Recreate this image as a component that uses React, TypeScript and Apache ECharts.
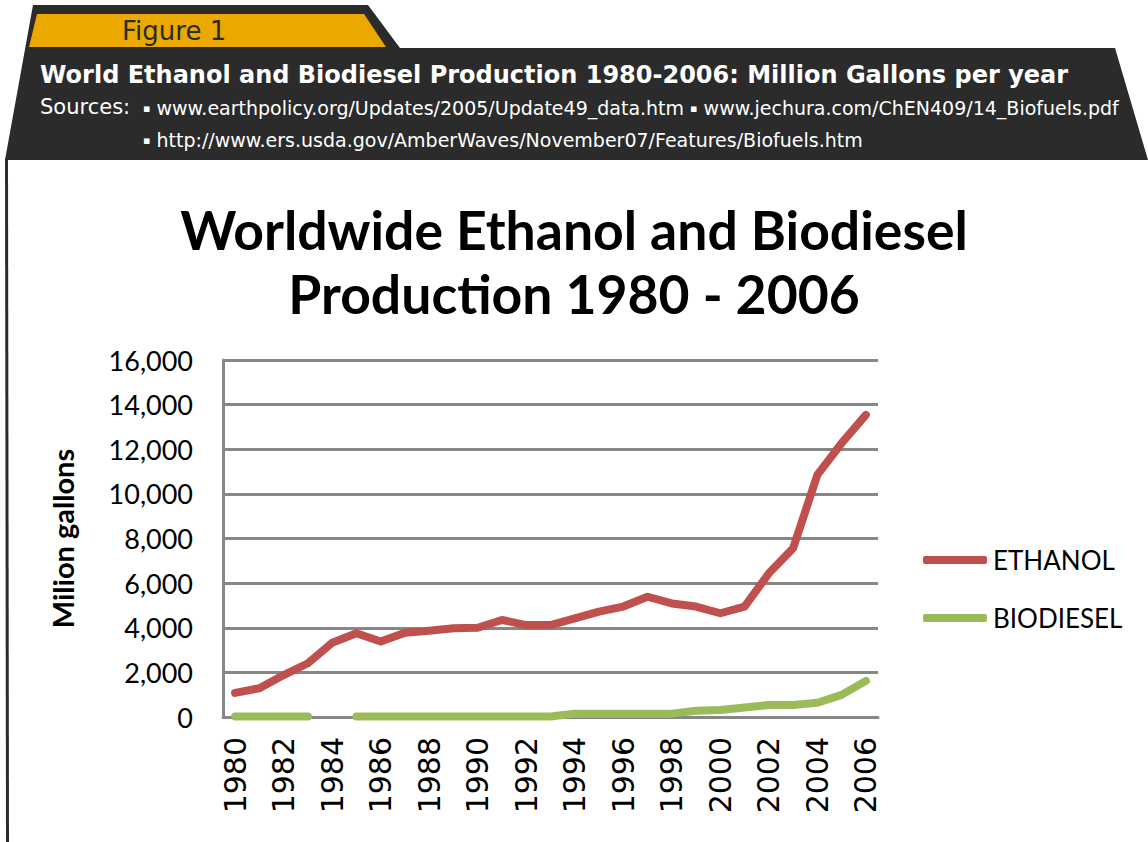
import React, { useEffect, useRef } from "react";
import * as echarts from "echarts";

const years = ["1980","1981","1982","1983","1984","1985","1986","1987","1988","1989","1990","1991","1992","1993","1994","1995","1996","1997","1998","1999","2000","2001","2002","2003","2004","2005","2006"];
const ethanol = [1080, 1290, 1880, 2410, 3330, 3750, 3380, 3780, 3870, 3980, 4000, 4350, 4120, 4120, 4420, 4720, 4950, 5390, 5090, 4950, 4650, 4950, 6440, 7560, 10850, 12270, 13540];
const biodiesel: (number | null)[] = [20, 20, 20, 20, null, 20, 20, 20, 20, 20, 20, 20, 20, 20, 150, 150, 150, 150, 150, 280, 310, 430, 540, 540, 640, 990, 1620];
const seriesNames = ["ETHANOL", "BIODIESEL"];
const titleLines = ["Worldwide Ethanol and Biodiesel", "Production 1980 - 2006"];
const headerTitle = "World Ethanol and Biodiesel Production 1980-2006: Million Gallons per year";
const sourcesLine1 = "{b|\u25AA} www.earthpolicy.org/Updates/2005/Update49_data.htm {b|\u25AA} www.jechura.com/ChEN409/14_Biofuels.pdf";
const sourcesLine2 = "{b|\u25AA} http://www.ers.usda.gov/AmberWaves/November07/Features/Biofuels.htm";

export default function App() {
  const ref = useRef<HTMLDivElement>(null);
  useEffect(() => {
    if (!ref.current) return;
    const chart = echarts.init(ref.current, undefined, { renderer: "svg" });
    const dark = "#2b2b2b";
    const bulletRich = { b: { fontFamily: "DejaVu Sans", fontSize: 11, fill: "#ffffff", color: "#ffffff", verticalAlign: "middle" } };
    chart.setOption({
      animation: false,
      backgroundColor: "#ffffff",
      title: {
        text: titleLines.join("\n"),
        left: "center",
        top: 192,
        textStyle: { fontFamily: "Lato", fontWeight: "bold", fontSize: 53.5, lineHeight: 64, color: "#000" },
      },
      legend: {
        orient: "vertical",
        left: 918,
        top: 542,
        itemWidth: 64,
        itemHeight: 8,
        itemGap: 32,
        icon: "roundRect",
        data: seriesNames,
        textStyle: { fontFamily: "Lato", fontSize: 26, color: "#000", padding: [0, 0, 0, 1] },
      },
      grid: { left: 223, right: 270, top: 360, bottom: 842 - 717, containLabel: false },
      xAxis: {
        type: "category",
        data: years,
        boundaryGap: true,
        axisLine: { lineStyle: { color: "#878787", width: 3 } },
        axisTick: { show: false },
        axisLabel: {
          interval: 1,
          rotate: 90,
          margin: 20,
          fontFamily: "DejaVu Sans",
          fontSize: 30,
          color: "#000",
        },
      },
      yAxis: {
        type: "value",
        min: 0,
        max: 16000,
        interval: 2000,
        name: "Milion gallons",
        nameLocation: "middle",
        nameGap: 146,
        nameRotate: 90,
        nameTextStyle: { fontFamily: "Lato", fontWeight: "bold", fontSize: 29, color: "#000" },
        axisLine: { show: true, lineStyle: { color: "#878787", width: 3 } },
        axisTick: { show: false },
        splitLine: { lineStyle: { color: "#878787", width: 3 } },
        axisLabel: {
          margin: 30,
          fontFamily: "Lato",
          fontSize: 27,
          color: "#000",
          formatter: (v: number) => v.toLocaleString("en-US"),
        },
      },
      series: [
        {
          name: seriesNames[0],
          type: "line",
          data: ethanol,
          showSymbol: false,
          symbol: "none",
          itemStyle: { color: "#c0504d" },
          lineStyle: { color: "#c0504d", width: 8, cap: "round", join: "round" },
        },
        {
          name: seriesNames[1],
          type: "line",
          data: biodiesel,
          connectNulls: false,
          showSymbol: false,
          symbol: "none",
          itemStyle: { color: "#9bbb59" },
          lineStyle: { color: "#9bbb59", width: 8, cap: "round", join: "round" },
        },
      ],
      graphic: [
        {
          type: "polygon",
          z: 0,
          shape: { points: [[33, 5], [368, 5], [400, 48], [1115, 48], [1148, 160], [5, 160]] },
          style: { fill: dark },
        },
        {
          type: "polygon",
          z: 1,
          shape: { points: [[37, 14], [364, 14], [386, 47], [29, 47]] },
          style: { fill: "#eaa800" },
        },
        {
          type: "line",
          z: 1,
          shape: { x1: 6.5, y1: 158, x2: 7.5, y2: 842 },
          style: { stroke: dark, lineWidth: 3 },
        },
        {
          type: "text",
          z: 2,
          x: 122,
          y: 31,
          style: { text: "Figure 1", fontFamily: "DejaVu Sans", fontSize: 26, fill: "#2b2b2b", verticalAlign: "middle" },
        },
        {
          type: "text",
          z: 2,
          x: 40,
          y: 75,
          style: { text: headerTitle, fontFamily: "DejaVu Sans", fontWeight: "bold", fontSize: 24, fill: "#ffffff", verticalAlign: "middle" },
        },
        {
          type: "text",
          z: 2,
          x: 40,
          y: 107,
          style: { text: "Sources:", fontFamily: "DejaVu Sans", fontSize: 21, fill: "#ffffff", verticalAlign: "middle" },
        },
        {
          type: "text",
          z: 2,
          x: 143,
          y: 108,
          style: { text: sourcesLine1, rich: bulletRich, fontFamily: "DejaVu Sans", fontSize: 19, fill: "#ffffff", verticalAlign: "middle" },
        },
        {
          type: "text",
          z: 2,
          x: 143,
          y: 140,
          style: { text: sourcesLine2, rich: bulletRich, fontFamily: "DejaVu Sans", fontSize: 19, fill: "#ffffff", verticalAlign: "middle" },
        },
      ],
    });
    return () => chart.dispose();
  }, []);
  return <div ref={ref} style={{ position: "fixed", left: 0, top: 0, width: 1148, height: 842 }} />;
}
